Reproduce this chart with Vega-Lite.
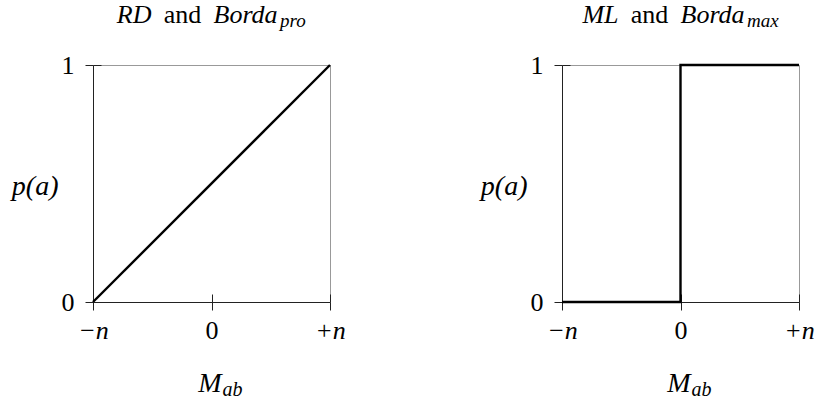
{
  "$schema": "https://vega.github.io/schema/vega-lite/v6.json",
  "background": "white",
  "padding": {"left": 10, "top": 0, "right": 5, "bottom": 5},
  "bounds": "flush",
  "spacing": 232,
  "config": {
    "view": {"stroke": "#999999", "strokeWidth": 1},
    "axis": {
      "grid": false,
      "labelFont": "Liberation Serif",
      "titleFont": "Liberation Serif",
      "labelColor": "black",
      "titleColor": "black",
      "titleFontWeight": "normal",
      "tickColor": "#222222",
      "domainColor": "#222222",
      "tickWidth": 1,
      "domainWidth": 1,
      "labelFlush": false,
      "labelOverlap": false
    }
  },
  "hconcat": [
    {
      "width": 237,
      "height": 237,
      "data": {"values": [
        {"i": 0, "x": -1, "p": 0},
        {"i": 1, "x": 1, "p": 1}
      ]},
      "layer": [
        {
          "mark": {"type": "line", "color": "black", "strokeWidth": 2.4},
          "encoding": {
            "x": {"field": "x", "type": "quantitative", "scale": {"domain": [-1, 1], "nice": false, "zero": false},
              "axis": {"orient": "bottom", "values": [-1, 0, 1], "tickSize": 8, "labelFontSize": 26, "labelPadding": 7,
                "labelExpr": "datum.value < 0 ? '−n' : (datum.value > 0 ? '+n' : '0')",
                "labelFontStyle": {"condition": {"test": "datum.value == 0", "value": "normal"}, "value": "italic"},
                "title": "M", "titleFontSize": 28, "titleFontStyle": "italic", "titleAlign": "right", "titleBaseline": "alphabetic", "titleX": 128, "titleY": 89}},
            "y": {"field": "p", "type": "quantitative", "scale": {"domain": [0, 1], "nice": false},
              "axis": {"orient": "left", "values": [0, 1], "format": "d", "tickSize": 8, "labelFontSize": 26, "labelPadding": 11,
                "title": "p(a)", "titleAngle": 0, "titleAlign": "right", "titleBaseline": "middle", "titleX": -35, "titleY": 121, "titleFontSize": 28, "titleFontStyle": "italic"}},
            "order": {"field": "i"}
          }
        },
        {
          "mark": {"type": "point", "opacity": 0},
          "encoding": {
            "x": {"field": "x", "type": "quantitative",
              "axis": {"orient": "bottom", "values": [-1, 0, 1], "tickSize": -8, "domain": false, "labels": false,
                "title": "ab", "titleFontSize": 20, "titleFontStyle": "italic", "titleAlign": "left", "titleBaseline": "alphabetic", "titleX": 129, "titleY": 93}},
            "y": {"field": "p", "type": "quantitative",
              "axis": {"orient": "left", "values": [0, 1], "tickSize": -8, "domain": false, "labels": false, "title": null}}
          }
        },
        {
          "mark": {"type": "point", "opacity": 0},
          "encoding": {
            "x": {"field": "x", "type": "quantitative",
              "axis": {"orient": "top", "domain": false, "ticks": false, "labels": false,
                "title": "RD", "titleFontSize": 26, "titleFontStyle": "italic", "titleAlign": "right", "titleBaseline": "alphabetic", "titleX": 58, "titleY": -43}},
            "y": {"field": "p", "type": "quantitative", "axis": null}
          }
        },
        {
          "mark": {"type": "point", "opacity": 0},
          "encoding": {
            "x": {"field": "x", "type": "quantitative",
              "axis": {"orient": "top", "domain": false, "ticks": false, "labels": false,
                "title": "and", "titleFontSize": 26, "titleFontStyle": "normal", "titleAlign": "center", "titleBaseline": "alphabetic", "titleX": 89, "titleY": -43}},
            "y": {"field": "p", "type": "quantitative", "axis": null}
          }
        },
        {
          "mark": {"type": "point", "opacity": 0},
          "encoding": {
            "x": {"field": "x", "type": "quantitative",
              "axis": {"orient": "top", "domain": false, "ticks": false, "labels": false,
                "title": "Borda", "titleFontSize": 26, "titleFontStyle": "italic", "titleAlign": "left", "titleBaseline": "alphabetic", "titleX": 120, "titleY": -43}},
            "y": {"field": "p", "type": "quantitative", "axis": null}
          }
        },
        {
          "mark": {"type": "point", "opacity": 0},
          "encoding": {
            "x": {"field": "x", "type": "quantitative",
              "axis": {"orient": "top", "domain": false, "ticks": false, "labels": false,
                "title": "pro", "titleFontSize": 19, "titleFontStyle": "italic", "titleAlign": "left", "titleBaseline": "alphabetic", "titleX": 186.5, "titleY": -39}},
            "y": {"field": "p", "type": "quantitative", "axis": null}
          }
        }
      ],
      "resolve": {"axis": {"x": "independent", "y": "independent"}}
    },
    {
      "width": 237,
      "height": 237,
      "data": {"values": [
        {"i": 0, "x": -1, "p": 0},
        {"i": 1, "x": 0, "p": 0},
        {"i": 2, "x": 0, "p": 1},
        {"i": 3, "x": 1, "p": 1}
      ]},
      "layer": [
        {
          "mark": {"type": "line", "color": "black", "strokeWidth": 2.4},
          "encoding": {
            "x": {"field": "x", "type": "quantitative", "scale": {"domain": [-1, 1], "nice": false, "zero": false},
              "axis": {"orient": "bottom", "values": [-1, 0, 1], "tickSize": 8, "labelFontSize": 26, "labelPadding": 7,
                "labelExpr": "datum.value < 0 ? '−n' : (datum.value > 0 ? '+n' : '0')",
                "labelFontStyle": {"condition": {"test": "datum.value == 0", "value": "normal"}, "value": "italic"},
                "title": "M", "titleFontSize": 28, "titleFontStyle": "italic", "titleAlign": "right", "titleBaseline": "alphabetic", "titleX": 128, "titleY": 89}},
            "y": {"field": "p", "type": "quantitative", "scale": {"domain": [0, 1], "nice": false},
              "axis": {"orient": "left", "values": [0, 1], "format": "d", "tickSize": 8, "labelFontSize": 26, "labelPadding": 11,
                "title": "p(a)", "titleAngle": 0, "titleAlign": "right", "titleBaseline": "middle", "titleX": -35, "titleY": 121, "titleFontSize": 28, "titleFontStyle": "italic"}},
            "order": {"field": "i"}
          }
        },
        {
          "mark": {"type": "point", "opacity": 0},
          "encoding": {
            "x": {"field": "x", "type": "quantitative",
              "axis": {"orient": "bottom", "values": [-1, 0, 1], "tickSize": -8, "domain": false, "labels": false,
                "title": "ab", "titleFontSize": 20, "titleFontStyle": "italic", "titleAlign": "left", "titleBaseline": "alphabetic", "titleX": 129, "titleY": 93}},
            "y": {"field": "p", "type": "quantitative",
              "axis": {"orient": "left", "values": [0, 1], "tickSize": -8, "domain": false, "labels": false, "title": null}}
          }
        },
        {
          "mark": {"type": "point", "opacity": 0},
          "encoding": {
            "x": {"field": "x", "type": "quantitative",
              "axis": {"orient": "top", "domain": false, "ticks": false, "labels": false,
                "title": "ML", "titleFontSize": 26, "titleFontStyle": "italic", "titleAlign": "right", "titleBaseline": "alphabetic", "titleX": 56, "titleY": -43}},
            "y": {"field": "p", "type": "quantitative", "axis": null}
          }
        },
        {
          "mark": {"type": "point", "opacity": 0},
          "encoding": {
            "x": {"field": "x", "type": "quantitative",
              "axis": {"orient": "top", "domain": false, "ticks": false, "labels": false,
                "title": "and", "titleFontSize": 26, "titleFontStyle": "normal", "titleAlign": "center", "titleBaseline": "alphabetic", "titleX": 87, "titleY": -43}},
            "y": {"field": "p", "type": "quantitative", "axis": null}
          }
        },
        {
          "mark": {"type": "point", "opacity": 0},
          "encoding": {
            "x": {"field": "x", "type": "quantitative",
              "axis": {"orient": "top", "domain": false, "ticks": false, "labels": false,
                "title": "Borda", "titleFontSize": 26, "titleFontStyle": "italic", "titleAlign": "left", "titleBaseline": "alphabetic", "titleX": 118, "titleY": -43}},
            "y": {"field": "p", "type": "quantitative", "axis": null}
          }
        },
        {
          "mark": {"type": "point", "opacity": 0},
          "encoding": {
            "x": {"field": "x", "type": "quantitative",
              "axis": {"orient": "top", "domain": false, "ticks": false, "labels": false,
                "title": "max", "titleFontSize": 19, "titleFontStyle": "italic", "titleAlign": "left", "titleBaseline": "alphabetic", "titleX": 184.5, "titleY": -39}},
            "y": {"field": "p", "type": "quantitative", "axis": null}
          }
        }
      ],
      "resolve": {"axis": {"x": "independent", "y": "independent"}}
    }
  ]
}
